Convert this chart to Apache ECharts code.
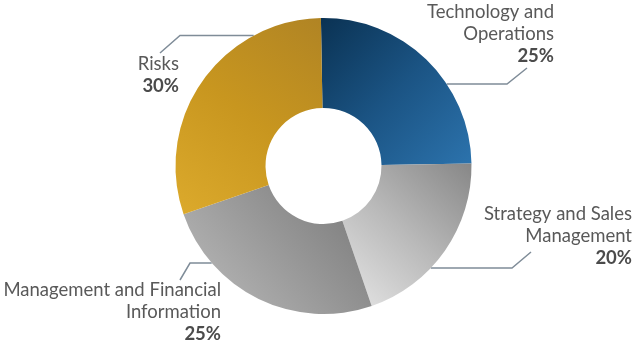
<!DOCTYPE html>
<html>
<head>
<meta charset="utf-8">
<script src="https://cdn.jsdelivr.net/npm/echarts@6/dist/echarts.min.js"></script>
<style>
  html, body { margin: 0; padding: 0; background: #ffffff; }
  #chart { width: 634px; height: 342px; }
</style>
</head>
<body>
<div id="chart"></div>
<script>
// Share of the programme by area (percent), clockwise from the top
const categories = [
  'Technology and\nOperations',
  'Strategy and Sales\nManagement',
  'Management and Financial\nInformation',
  'Risks'
];
const shares = [25, 20, 25, 30];

// Donut geometry
const CX = 323.5, CY = 166, R_IN = 58, R_OUT = 148;

// Label blocks: right edge x, vertical centre y
const labelAnchors = [
  [554, 34],
  [632, 236],
  [221, 312],
  [179, 75]
];
// Leader lines: horizontal run at y, elbow x, end point x/y
const leaders = [
  [84, 507, 527, 68],
  [268, 512, 531, 252],
  [263, 190, 180, 280],
  [35.5, 180, 160, 53]
];

const grad = (x, y, x2, y2, c0, c1, c2) => new echarts.graphic.LinearGradient(x, y, x2, y2, [
  { offset: 0, color: c0 }, { offset: 0.5, color: c1 }, { offset: 1, color: c2 }
]);
const fills = [
  grad(0, 0, 1, 1, '#0a3253', '#1b5484', '#2c73ad'),
  grad(1, 0, 0, 1, '#878787', '#b9b9b9', '#e6e6e6'),
  grad(1, 0, 0.2, 1, '#777777', '#959595', '#b4b4b4'),
  grad(1, 0, 0, 1, '#b08424', '#c8961f', '#dcaa2c')
];

const chart = echarts.init(document.getElementById('chart'), null, { renderer: 'canvas' });
chart.setOption({
  animation: false,
  series: [{
    type: 'pie',
    center: [CX, CY],
    radius: [R_IN, R_OUT],
    startAngle: 91,
    clockwise: true,
    avoidLabelOverlap: false,
    data: categories.map((name, i) => ({
      name: name,
      value: shares[i],
      itemStyle: { color: fills[i] }
    })),
    label: {
      show: true,
      position: 'outside',
      formatter: p => '{n|' + p.name.split('\n').join('}\n{n|') + '}\n{p|' + p.value + '%}',
      align: 'right',
      rich: {
        n: { fontFamily: 'Lato', fontSize: 18.5, color: '#595959', lineHeight: 22, align: 'right' },
        p: { fontFamily: 'Lato', fontSize: 18.5, fontWeight: 'bold', color: '#4b4b4b', lineHeight: 22, align: 'right' }
      }
    },
    labelLine: {
      show: true,
      lineStyle: { color: '#7f8c98', width: 1.5 }
    },
    labelLayout: function (params) {
      const i = params.dataIndex;
      const a = labelAnchors[i];
      const l = leaders[i];
      const side = l[1] > CX ? 1 : -1;
      const sx = CX + side * Math.sqrt(R_OUT * R_OUT - (l[0] - CY) * (l[0] - CY));
      return {
        x: a[0],
        y: a[1],
        align: 'right',
        verticalAlign: 'middle',
        labelLinePoints: [[sx, l[0]], [l[1], l[0]], [l[2], l[3]]]
      };
    }
  }]
});
</script>
</body>
</html>
